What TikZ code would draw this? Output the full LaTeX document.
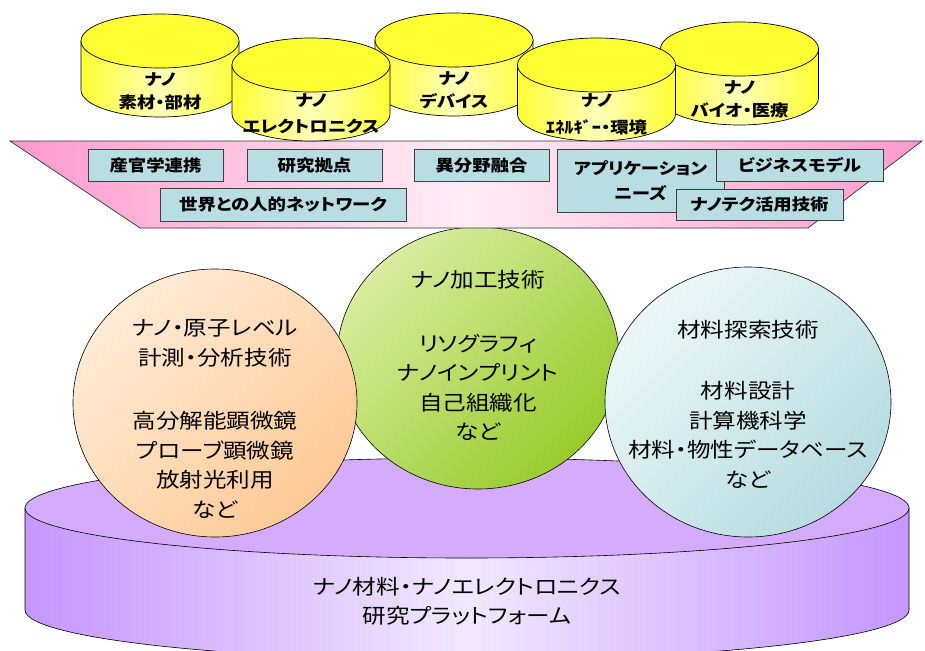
\documentclass[tikz,border=0pt]{standalone}
\usepackage{fontspec}
\setmainfont{Noto Sans CJK JP}[RawFeature=+palt, FakeStretch=1.15]
\definecolor{ytop}{HTML}{FFFF33}
\definecolor{yedge}{HTML}{FFFF33}
\definecolor{ymid}{HTML}{FFFFB8}
\definecolor{pinkE}{HTML}{FF99CC}
\definecolor{pinkM}{HTML}{FFEEF6}
\definecolor{boxc}{HTML}{B8DEE4}
\definecolor{olight}{HTML}{FFEBD6}
\definecolor{odark}{HTML}{FFCA96}
\definecolor{glight}{HTML}{D8EDA0}
\definecolor{gdark}{HTML}{98CB2C}
\definecolor{tlight}{HTML}{EDF7F8}
\definecolor{tdark}{HTML}{B6DCE1}
\definecolor{ptop}{HTML}{D4ABFD}
\definecolor{pside}{HTML}{C497FE}
\definecolor{pmid}{HTML}{F1E8FE}
\newcommand{\ycyl}[2]{%
  \path[draw=black, line width=0.7pt, left color=yedge, right color=yedge, middle color=ymid]
    (#1-79,#2) -- (#1-79,#2+49) arc[start angle=180, end angle=0, x radius=79, y radius=27] -- (#1+79,#2) -- cycle;
  \path[draw=black, line width=0.7pt, fill=ytop] (#1,#2) ellipse[x radius=79, y radius=27];}
\begin{document}
\begin{tikzpicture}[x=1pt, y=-1pt,
  cyltext/.style={font=\bfseries\fontsize{16}{20}\selectfont, inner sep=0pt, anchor=center},
  boxn/.style={draw=black!75, fill=boxc, line width=0.7pt, font=\bfseries\fontsize{16}{25}\selectfont, inner sep=0pt, minimum height=32, align=center, anchor=center},
  circtext/.style={font=\fontsize{20.5}{29.5}\selectfont, inner sep=0pt, align=center, anchor=center},
  outl/.style={draw=black, line width=0.6pt}]
\useasboundingbox (0,0) rectangle (925,650);
% purple platform
\path[outl, left color=pside, right color=pside, middle color=pmid]
  (25,508) -- (25,610) arc[start angle=180, end angle=0, x radius=442, y radius=50] -- (909,508) -- cycle;
\path[outl, fill=ptop] (467,508) ellipse[x radius=442, y radius=50];
\node[circtext] (plat) at (467,601) {ナノ材料・ナノエレクトロニクス\\研究プラットフォーム};
% circles
\path[outl, top color=glight, bottom color=gdark, shading angle=45] (478,358) ellipse[x radius=141, y radius=131];
\node[circtext] (g1) at (478,280) {ナノ加工技術};
\node[circtext] (g2) at (478,387.5) {リソグラフィ\\ナノインプリント\\自己組織化\\など};
\path[outl, top color=olight, bottom color=odark, shading angle=45] (215,403) ellipse[x radius=142, y radius=134];
\node[circtext] (o1) at (215,343.5) {ナノ・原子レベル\\計測・分析技術};
\node[circtext] (o2) at (215,465) {高分解能顕微鏡\\プローブ顕微鏡\\放射光利用\\など};
\path[outl, top color=tlight, bottom color=tdark, shading angle=45] (748,402) ellipse[x radius=143, y radius=135];
\node[circtext] (t1) at (748,330) {材料探索技術};
\node[circtext] (t2) at (748,435) {材料設計\\計算機科学\\材料・物性データベース\\など};
% pink band
\path[draw=black!80, line width=0.7pt, left color=pinkE, right color=pinkE, middle color=pinkM]
  (10,141) -- (922,141) -- (808,228) -- (140,228) -- cycle;
\node[boxn, minimum width=135] (b1) at (155.5,165) {産官学連携};
\node[boxn, minimum width=135] (b2) at (314.5,165) {研究拠点};
\node[boxn, minimum width=135] (b3) at (481.5,165) {異分野融合};
\node[boxn, minimum width=246, minimum height=33] (b4) at (283,204.5) {世界との人的ネットワーク};
\node[boxn, minimum width=167, minimum height=63] (b5) at (640.5,180.5) {アプリケーション\\ニーズ};
\node[boxn, minimum width=167] (b6) at (799.5,165) {ビジネスモデル};
\node[boxn, minimum width=167, minimum height=31] (b7) at (759.5,204.5) {ナノテク活用技術};
% yellow cylinders
\ycyl{160}{41}
\ycyl{454}{40}
\ycyl{739.5}{49}
\ycyl{311}{65}
\ycyl{596.5}{65}
\node[cyltext] (c1a) at (160,80) {ナノ};
\node[cyltext] (c1b) at (160,102) {素材・部材};
\node[cyltext] (c3a) at (454,79) {ナノ};
\node[cyltext] (c3b) at (454,101) {デバイス};
\node[cyltext] (c5a) at (739.5,88) {ナノ};
\node[cyltext] (c5b) at (739.5,110) {バイオ・医療};
\node[cyltext] (c2a) at (311,101) {ナノ};
\node[cyltext] (c2b) at (311,126) {エレクトロニクス};
\node[cyltext] (c4a) at (596.5,101) {ナノ};
\node[cyltext] (c4b) at (596.5,127) {ｴﾈﾙｷﾞｰ・環境};
\end{tikzpicture}
\end{document}
